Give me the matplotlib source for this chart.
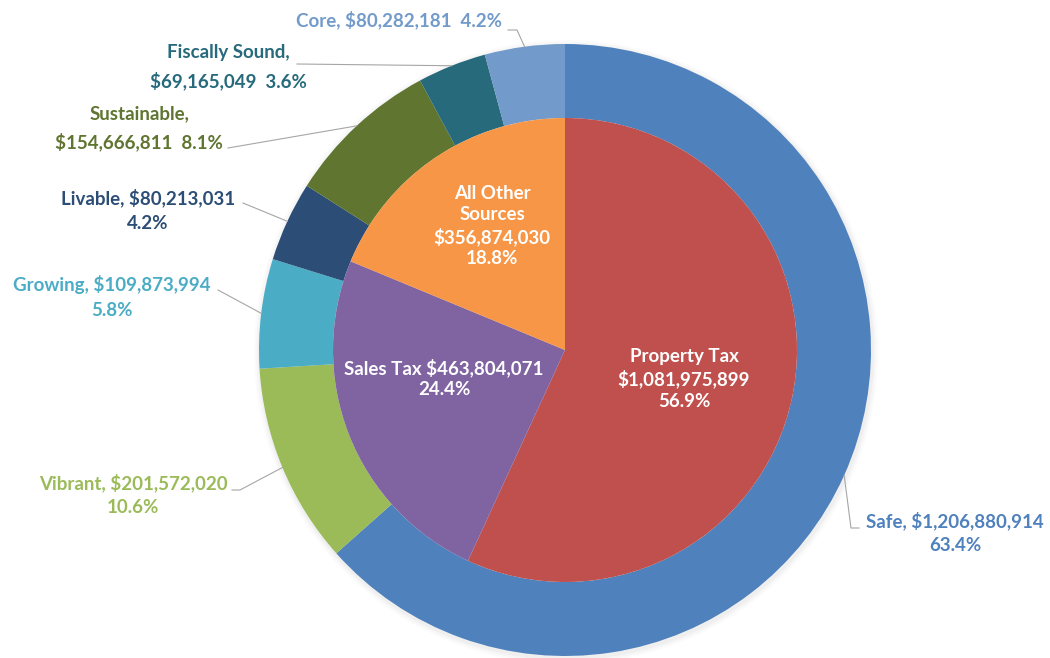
import numpy as np
import matplotlib
matplotlib.use("Agg")
import matplotlib.pyplot as plt
from matplotlib.patches import Circle

plt.rcParams["font.family"] = ["Lato", "DejaVu Sans"]

# outer ring: spending by program area
programs = ["Safe", "Vibrant", "Growing", "Livable", "Sustainable", "Fiscally Sound", "Core"]
program_values = [1206880914, 201572020, 109873994, 80213031, 154666811, 69165049, 80282181]
program_colors = ["#4F81BD", "#9BBB59", "#4BACC6", "#2C4D75", "#5F7530", "#276A7C", "#729ACA"]

# inner pie: revenue sources
sources = ["Property Tax", "Sales Tax", "All Other Sources"]
source_values = [1081975899, 463804071, 356874030]
source_colors = ["#C0504D", "#8064A2", "#F79646"]

W, H = 1050, 658
CX, CY = 565, H - 350
R_OUT, R_IN = 306, 232
FS = 13.5


def fy(y):
    # layout written as pixel rows from the top
    return H - y


fig = plt.figure(figsize=(W / 100, H / 100), dpi=100)
ax = fig.add_axes([0, 0, 1, 1])

# soft shadow behind the ring
for dr, a in [(6, 0.03), (4, 0.04), (2, 0.06)]:
    ax.add_patch(Circle((CX + 1, CY - 2), R_OUT + dr, color="#808080", alpha=a, lw=0, zorder=0))

outer, _ = ax.pie(program_values, radius=R_OUT, center=(CX, CY), startangle=90,
                  counterclock=False, colors=program_colors,
                  wedgeprops=dict(width=R_OUT - R_IN, linewidth=0))
inner, _ = ax.pie(source_values, radius=R_IN, center=(CX, CY), startangle=90,
                  counterclock=False, colors=source_colors,
                  wedgeprops=dict(linewidth=0))
ax.set_xlim(0, W)
ax.set_ylim(0, H)
ax.axis("off")

total = sum(program_values)


def money(v):
    return f"${v:,.0f}"


def pct(v):
    return f"{v / total * 100:.1f}%"


# program labels: text template, centre of block, line spacing, leader start points
prog_layout = {
    "Safe":           ("{n}, {m}\n{p}", (955, 533), 1.5, [(859, 528), (851, 528)]),
    "Vibrant":        ("{n}, {m}\n{p}", (133, 495), 1.45, [(232, 490), (240, 490)]),
    "Growing":        ("{n}, {m}\n{p}", (112, 297), 1.5, [(218, 290)]),
    "Livable":        ("{n}, {m}\n{p}", (148, 210), 1.55, [(243, 203)]),
    "Sustainable":    ("{n},\n{m}  {p}", (139, 128), 1.65, [(228, 148)]),
    "Fiscally Sound": ("{n},\n{m}  {p}", (228, 67), 1.65, [(297, 64)]),
    "Core":           ("{n}, {m}  {p}", (399, 20), 1.0, [(508, 30), (517, 30)]),
}

for name, val, col, w in zip(programs, program_values, program_colors, outer):
    tmpl, (tx, ty), ls, pts = prog_layout[name]
    ax.text(tx, fy(ty), tmpl.format(n=name, m=money(val), p=pct(val)),
            ha="center", va="center", color=col, fontsize=FS, fontweight="bold",
            linespacing=ls)
    mid = np.deg2rad((w.theta1 + w.theta2) / 2)
    ex, ey = CX + R_OUT * np.cos(mid), CY + R_OUT * np.sin(mid)
    xs = [p[0] for p in pts] + [ex]
    ys = [fy(p[1]) for p in pts] + [ey]
    ax.plot(xs, ys, color="#A6A6A6", lw=0.8, zorder=5)

src_layout = {
    "Property Tax":      ("{n}\n{m}\n{p}", (684, 379)),
    "Sales Tax":         ("{n} {m}\n{p}", (444, 378)),
    "All Other Sources": ("All Other\nSources\n{m}\n{p}", (492, 226)),
}

for name, val in zip(sources, source_values):
    tmpl, (tx, ty) = src_layout[name]
    ax.text(tx, fy(ty), tmpl.format(n=name, m=money(val), p=pct(val)),
            ha="center", va="center", color="white", fontsize=FS, fontweight="bold",
            linespacing=1.3)

fig.savefig("out.png", dpi=100, facecolor="white")
